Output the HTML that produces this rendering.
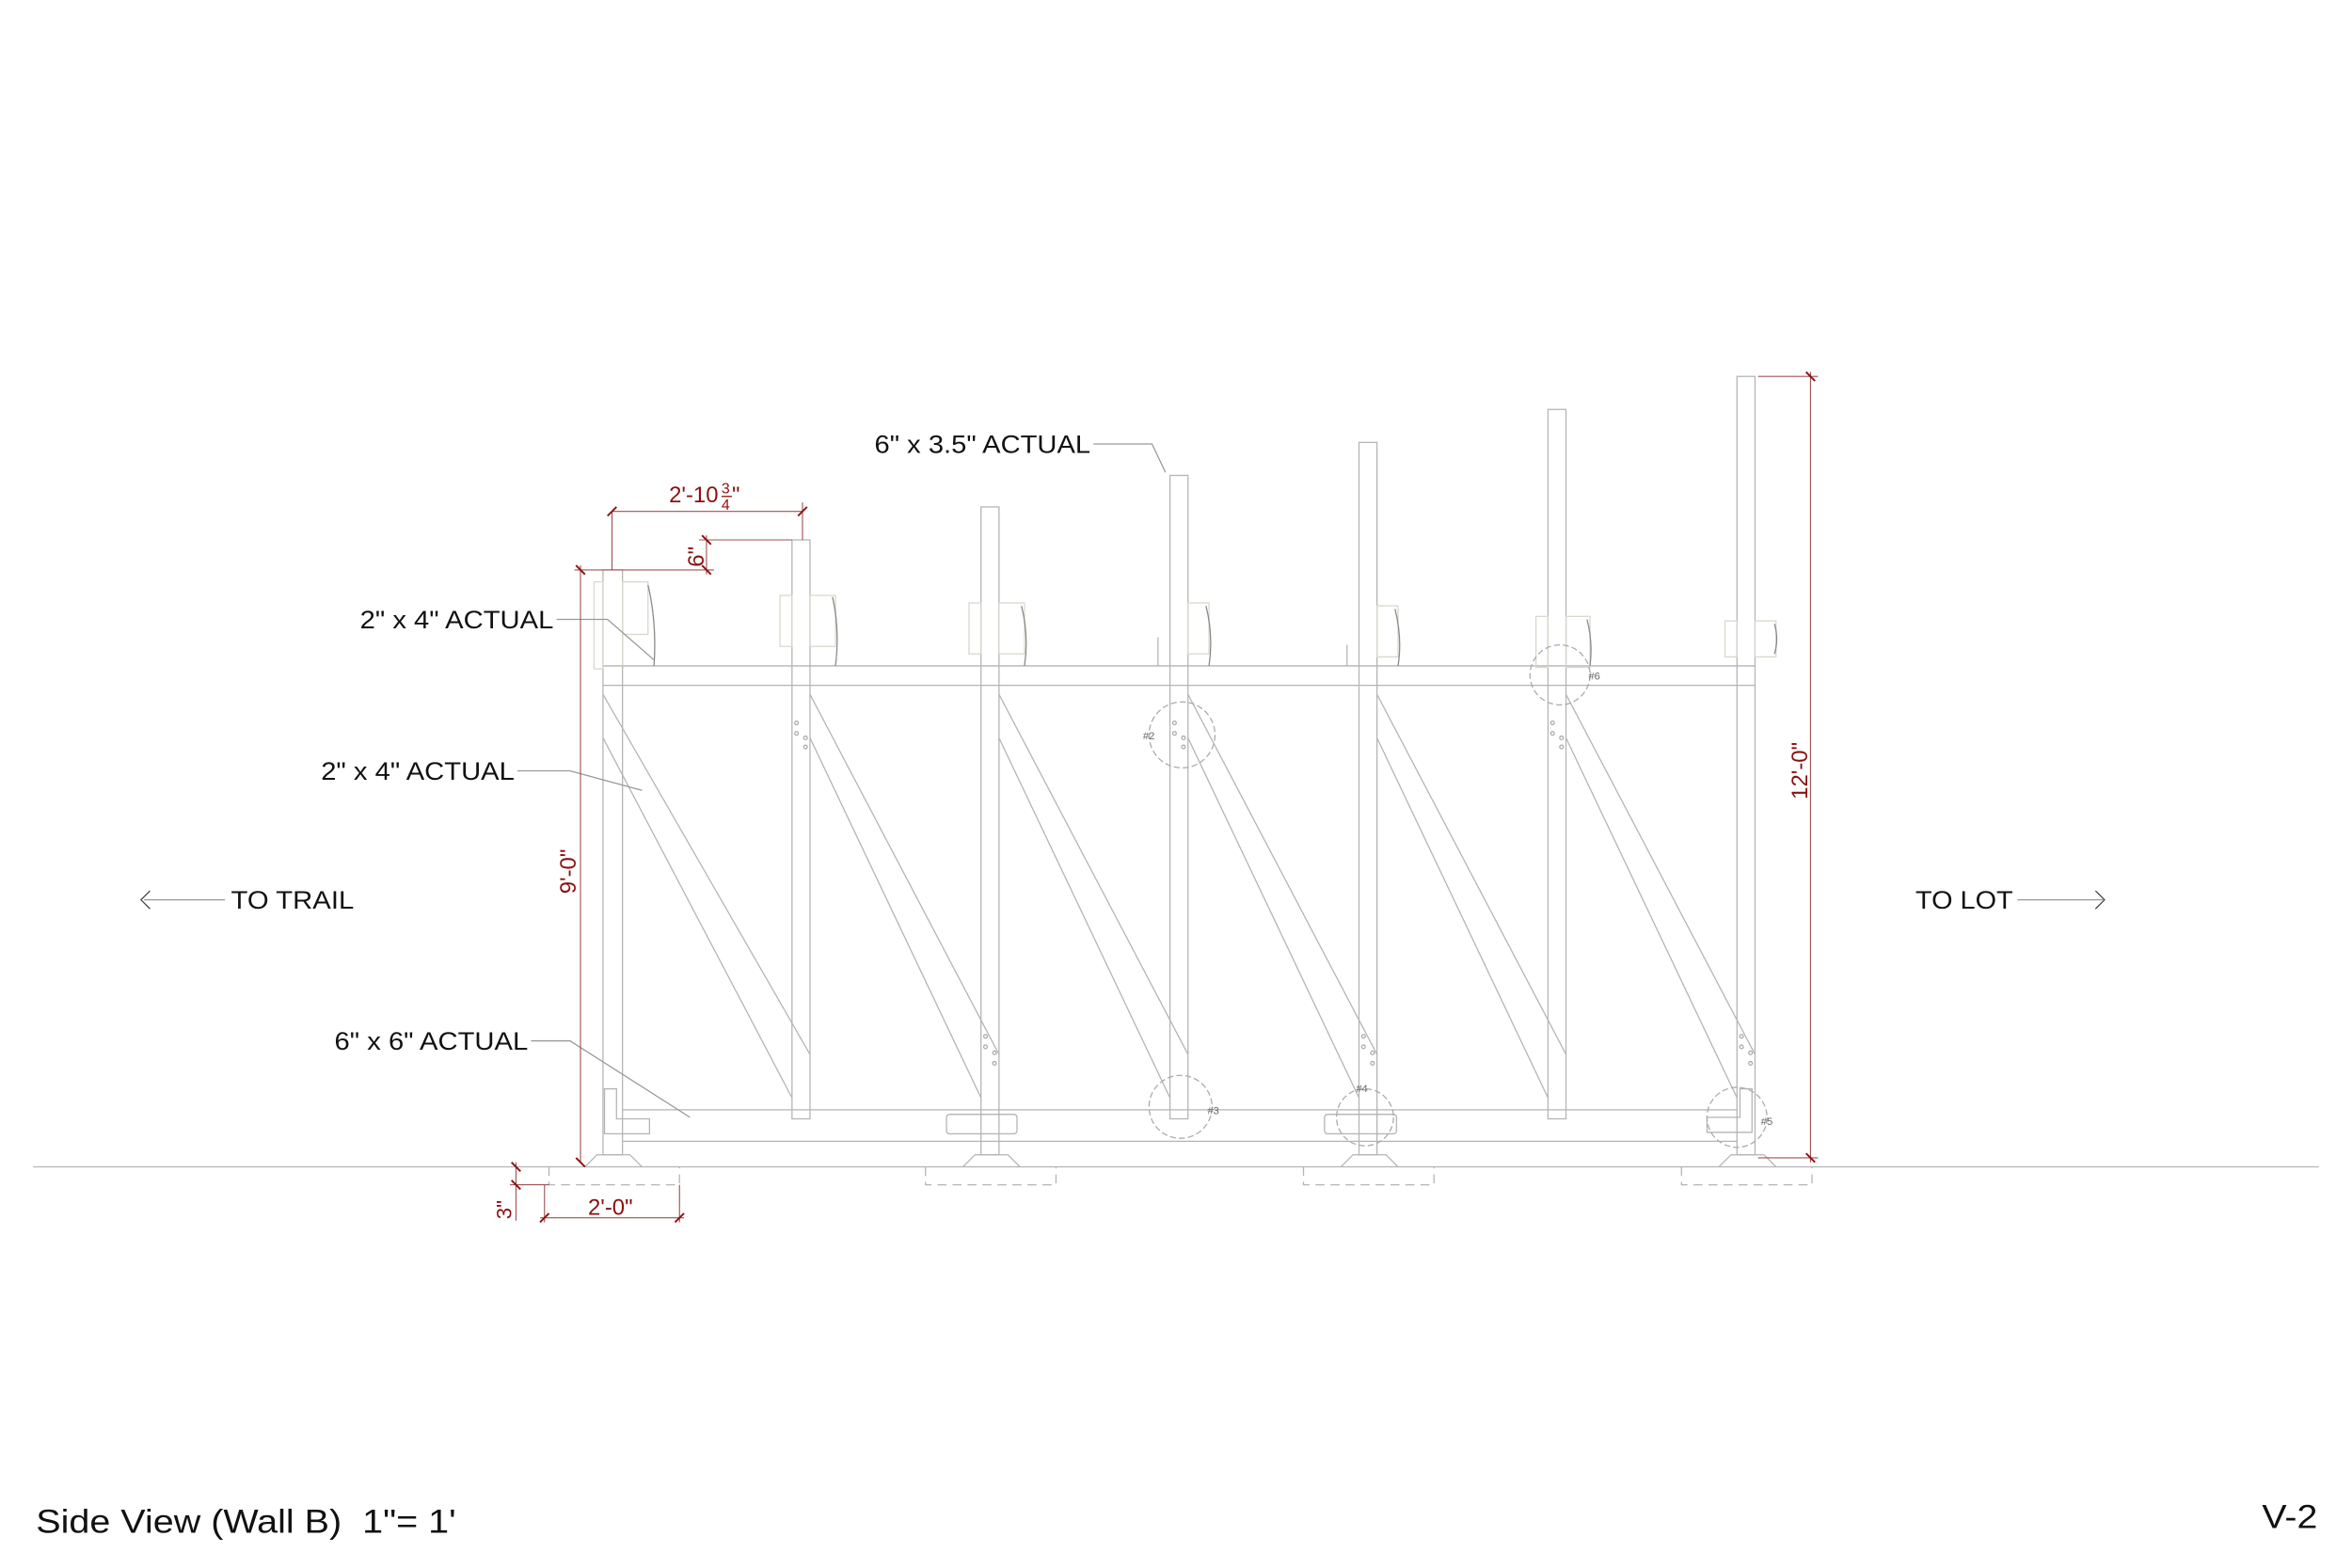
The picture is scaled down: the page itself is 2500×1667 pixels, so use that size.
<!DOCTYPE html>
<html><head><meta charset="utf-8"><style>
html,body{margin:0;padding:0;background:#fff;}
svg{display:block;}
text{font-family:"Liberation Sans",sans-serif;}
</style></head><body>
<svg width="2500" height="1667" viewBox="0 0 1568 1045.5" preserveAspectRatio="none" xmlns="http://www.w3.org/2000/svg">
<rect width="1568" height="1046" fill="#fff"/>
<g stroke="#b4b4b4" stroke-width="0.8" fill="none">
<line x1="22" y1="778" x2="1546" y2="778"/>
<rect x="402" y="380" width="13" height="390"/>
<rect x="528" y="360" width="12" height="386"/>
<rect x="654" y="338" width="12" height="432"/>
<rect x="780" y="317" width="12" height="429"/>
<rect x="906" y="295" width="12" height="475"/>
<rect x="1032" y="273" width="12" height="473"/>
<rect x="1158" y="251" width="12" height="519"/>
<line x1="402" y1="444" x2="1170" y2="444"/>
<line x1="402" y1="457" x2="1170" y2="457"/>
<line x1="415" y1="740" x2="1158" y2="740"/>
<line x1="415" y1="761" x2="1158" y2="761"/>
<line x1="402" y1="463" x2="540" y2="703"/><line x1="402" y1="492" x2="528" y2="732"/>
<line x1="540" y1="463" x2="666" y2="703"/><line x1="540" y1="492" x2="654" y2="732"/>
<line x1="666" y1="463" x2="792" y2="703"/><line x1="666" y1="492" x2="780" y2="732"/>
<line x1="792" y1="463" x2="918" y2="703"/><line x1="792" y1="492" x2="906" y2="732"/>
<line x1="918" y1="463" x2="1044" y2="703"/><line x1="918" y1="492" x2="1032" y2="732"/>
<line x1="1044" y1="463" x2="1170" y2="703"/><line x1="1044" y1="492" x2="1158" y2="732"/>
<path d="M390 778 L398 770 L420 770 L428 778"/>
<path d="M642 778 L650 770 L672 770 L680 778"/>
<path d="M894 778 L902 770 L924 770 L932 778"/>
<path d="M1146 778 L1154 770 L1176 770 L1184 778"/>
<g stroke-dasharray="6,4">
<path d="M366 778 V790 H453 V778"/>
<path d="M617 778 V790 H704 V778"/>
<path d="M869 778 V790 H956 V778"/>
<path d="M1121 778 V790 H1208 V778"/>
</g>
<g stroke="#d8d8cc">
<rect x="396" y="388" width="6" height="58"/><rect x="415" y="388" width="17" height="35"/><line x1="415" y1="423" x2="415" y2="444"/>
<rect x="520" y="397" width="8" height="34"/><rect x="540" y="397" width="17" height="34"/>
<rect x="646" y="402" width="8" height="34"/><rect x="666" y="402" width="17" height="34"/>
<rect x="792" y="402" width="14" height="34"/>
<rect x="918" y="404" width="14" height="34"/>
<rect x="1024" y="411" width="8" height="34"/><rect x="1044" y="411" width="16" height="34"/>
<rect x="1150" y="414" width="8" height="24"/><rect x="1170" y="414" width="14" height="24"/>
</g>
<path d="M432 390 Q438 415 436 444 M555 398 Q560 420 557 444 M681 404 Q686 424 683 444 M804 404 Q809 424 806 444 M930 406 Q935 426 932 444 M1058 413 Q1062 428 1060 444 M1183 416 Q1186 426 1183 436" stroke="#888"/>
<line x1="772" y1="425" x2="772" y2="444"/><line x1="898" y1="430" x2="898" y2="444"/>
<path d="M403 726 h8 v20 h22 v10 h-30 z"/>
<rect x="631" y="743" width="47" height="13" rx="2"/>
<rect x="883" y="743" width="48" height="13" rx="2"/>
<path d="M1160 726 h8 v29 h-30 v-10 h22 z"/>
<g stroke="#aaa"><circle cx="531" cy="482" r="1.2"/><circle cx="531" cy="489" r="1.2"/><circle cx="537" cy="492" r="1.2"/><circle cx="537" cy="498" r="1.2"/>
<circle cx="783" cy="482" r="1.2"/><circle cx="783" cy="489" r="1.2"/><circle cx="789" cy="492" r="1.2"/><circle cx="789" cy="498" r="1.2"/>
<circle cx="1035" cy="482" r="1.2"/><circle cx="1035" cy="489" r="1.2"/><circle cx="1041" cy="492" r="1.2"/><circle cx="1041" cy="498" r="1.2"/>
<circle cx="657" cy="691" r="1.2"/><circle cx="657" cy="698" r="1.2"/><circle cx="663" cy="702" r="1.2"/><circle cx="663" cy="709" r="1.2"/>
<circle cx="909" cy="691" r="1.2"/><circle cx="909" cy="698" r="1.2"/><circle cx="915" cy="702" r="1.2"/><circle cx="915" cy="709" r="1.2"/>
<circle cx="1161" cy="691" r="1.2"/><circle cx="1161" cy="698" r="1.2"/><circle cx="1167" cy="702" r="1.2"/><circle cx="1167" cy="709" r="1.2"/></g>
<g stroke-dasharray="4,2" stroke="#aaa">
<circle cx="788" cy="490" r="22"/><circle cx="1040" cy="450" r="20"/>
<circle cx="787" cy="738" r="21"/><circle cx="910" cy="745" r="19"/><circle cx="1158" cy="745" r="20"/>
</g>
<g stroke="#999">
<polyline points="729,296 768,296 777,315"/>
<polyline points="371,413 405,413 436,440"/>
<polyline points="345,514 380,514 428,527"/>
<polyline points="354,694 380,694 460,745"/>
<line x1="96" y1="600" x2="150" y2="600"/>
<line x1="1345" y1="600" x2="1402" y2="600"/>
</g>
<polyline points="100,594 94,600 100,606" stroke="#444"/>
<polyline points="1397,594 1403,600 1397,606" stroke="#444"/>
</g>
<g stroke="#a05050" stroke-width="0.7" fill="none">
<line x1="408" y1="341" x2="535" y2="341"/><line x1="408" y1="341" x2="408" y2="380"/><line x1="535" y1="335" x2="535" y2="360"/>
<line x1="466" y1="360" x2="528" y2="360"/><line x1="383" y1="380" x2="476" y2="380"/><line x1="471" y1="357" x2="471" y2="383"/>
<line x1="387" y1="377" x2="387" y2="775"/>
<line x1="1207" y1="248" x2="1207" y2="775"/><line x1="1172" y1="251" x2="1212" y2="251"/><line x1="1172" y1="772" x2="1212" y2="772"/>
<line x1="344" y1="775" x2="344" y2="814"/><line x1="340" y1="790" x2="366" y2="790"/>
<line x1="360" y1="812" x2="456" y2="812"/><line x1="363" y1="790" x2="363" y2="815"/><line x1="453" y1="790" x2="453" y2="815"/>
</g>
<g stroke="#8b1010" stroke-width="1.2">
<line x1="405" y1="344" x2="411" y2="338"/><line x1="532" y1="344" x2="538" y2="338"/>
<line x1="468" y1="357" x2="474" y2="363"/><line x1="468" y1="377" x2="474" y2="383"/>
<line x1="384" y1="377" x2="390" y2="383"/><line x1="384" y1="772" x2="390" y2="778"/>
<line x1="1204" y1="248" x2="1210" y2="254"/><line x1="1204" y1="769" x2="1210" y2="775"/>
<line x1="341" y1="775" x2="347" y2="781"/><line x1="341" y1="787" x2="347" y2="793"/>
<line x1="360" y1="815" x2="366" y2="809"/><line x1="450" y1="815" x2="456" y2="809"/>
</g>
<g fill="#8b1010" font-size="15">
<text x="446" y="335">2'-10</text>
<text x="481" y="329" font-size="10">3</text>
<line x1="481" y1="331" x2="488" y2="331" stroke="#8b1010" stroke-width="0.8"/>
<text x="481" y="340" font-size="10">4</text>
<text x="488" y="335">"</text>
<text transform="translate(469,378) rotate(-90)">6"</text>
<text transform="translate(384,596) rotate(-90)">9'-0"</text>
<text transform="translate(1205,533) rotate(-90)">12'-0"</text>
<text transform="translate(341,813) rotate(-90)" font-size="14">3"</text>
<text x="392" y="810">2'-0"</text>
</g>
<g fill="#666" font-size="7">
<text x="762" y="493">#2</text><text x="1059" y="453">#6</text><text x="805" y="743">#3</text><text x="904" y="728">#4</text><text x="1174" y="750">#5</text>
</g>
<g fill="#111" font-size="17">
<text x="583" y="302" textLength="144" lengthAdjust="spacingAndGlyphs">6" x 3.5" ACTUAL</text>
<text x="240" y="419" textLength="129" lengthAdjust="spacingAndGlyphs">2" x 4" ACTUAL</text>
<text x="214" y="520" textLength="129" lengthAdjust="spacingAndGlyphs">2" x 4" ACTUAL</text>
<text x="223" y="700" textLength="129" lengthAdjust="spacingAndGlyphs">6" x 6" ACTUAL</text>
<text x="154" y="606" textLength="82" lengthAdjust="spacingAndGlyphs">TO TRAIL</text>
<text x="1277" y="606" textLength="65" lengthAdjust="spacingAndGlyphs">TO LOT</text>
</g>
<text x="24" y="1022" font-size="22" fill="#111" textLength="280" lengthAdjust="spacingAndGlyphs">Side View (Wall B)&#160; 1"= 1'</text>
<text x="1508" y="1019" font-size="22" fill="#111" textLength="37" lengthAdjust="spacingAndGlyphs">V-2</text>
</svg>
</body></html>
